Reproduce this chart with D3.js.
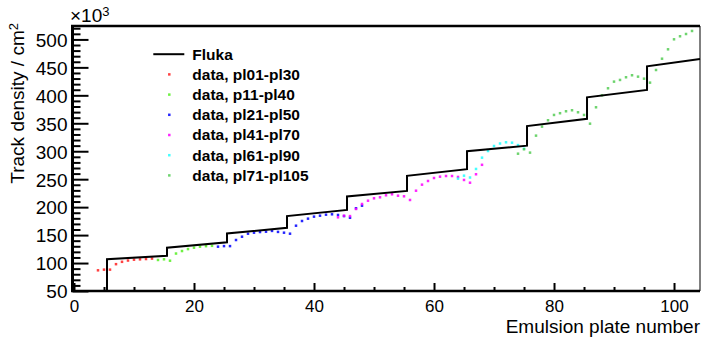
<!DOCTYPE html>
<html>
<head>
<meta charset="utf-8">
<script src="https://cdn.jsdelivr.net/npm/d3@7"></script>
<style>
  body { margin: 0; background: #fff; }
  text { font-family: "Liberation Sans", Arial, sans-serif; }
</style>
</head>
<body>
<div class="svg-content"></div>
<script>
// Fluka prediction (step line), x = plate number, y = track density in 10^3 / cm2
const flukaX = [5.5, 5.5, 15.5, 15.5, 25.5, 25.5, 35.5, 35.5, 45.5, 45.5, 55.5, 55.5, 65.5, 65.5, 75.5, 75.5, 85.5, 85.5, 95.5, 95.5, 104.33];
const flukaY = [50, 107, 113, 127.5, 137, 153, 163, 184, 195, 219, 229, 256, 268, 300, 310, 345, 358, 396.5, 409.6, 452, 465];

// measured data, one array per plate group
const seriesNames = ["data, pl01-pl30", "data, p11-pl40", "data, pl21-pl50", "data, pl41-pl70", "data, pl61-pl90", "data, pl71-pl105"];
const seriesColors = ["#ff2020", "#55ee22", "#0000ff", "#ff00ff", "#22ffff", "#55cc55"];
const seriesStart = [4, 14, 24, 44, 64, 74];

const red = [87, 88.2, 88.2, 98, 102.2, 104.5, 106, 106.6, 107.2, 108];
const green1 = [105.5, 106.7, 104.2, 117, 121.5, 125, 127.5, 129.3, 130.2, 130.8];
const blue = [129.3, 130.3, 130.3, 141.2, 147.1, 152.5, 154.3, 155.5, 156.1, 157.5, 155.7, 154.3, 152.5,
              166.8, 175.2, 179.4, 183, 184.7, 186.5, 187.2, 186, 184, 181, 198, 202.6];
const magenta = [181.8, 184.7, 184, 196.7, 205.6, 211.5, 215.8, 217.6, 221.2, 223, 220.5, 219.4, 212.8,
                 229.4, 240.2, 246.8, 252.1, 254.5, 255.7, 255.7, 254, 248.6, 243.7, 258.8, 275.7];
const cyan = [251, 256.3, 253, 268.3, 288.5, 300.4, 309.4, 313.8, 316, 315.3, 311, 304.5];
const green2 = [295.6, 303.5, 297.5, 327.9, 344, 355.4, 364.9, 368, 371.5, 373.3, 369.7, 364.9, 349.3,
                378.6, 400, 412.6, 424.5, 427.5, 432.3, 435.9, 433.4, 429.8, 422.7, 445.3, 465.5,
                482.3, 500.2, 505.6, 509.7, 515.1];
const seriesValues = [red, green1, blue, magenta, cyan, green2];

const xMajor = [0, 20, 40, 60, 80, 100];
const yMajor = [50, 100, 150, 200, 250, 300, 350, 400, 450, 500];

const svgWidth = 701;
const svgHeight = 341;

const padLeft = 74, padRight = 700, padTop = 26, padBottom = 291;

let svg = d3.select(".svg-content")
            .append("svg")
            .attr("width", svgWidth)
            .attr("height", svgHeight);

const xScale = d3.scaleLinear().domain([0, 104.33]).range([padLeft, padRight]);
const yScale = d3.scaleLinear().domain([50, 524]).range([padBottom, padTop]);

// minor ticks
const xMinor = d3.range(0, 105, 5).filter(v => xMajor.indexOf(v) < 0);
const yMinor = d3.range(50, 521, 10).filter(v => yMajor.indexOf(v) < 0);

svg.append("g")
   .attr("transform", "translate(0," + padBottom + ")")
   .call(d3.axisBottom(xScale).tickValues(xMinor).tickSize(-4).tickFormat(""))
   .call(g => g.select(".domain").remove())
   .call(g => g.selectAll("line").attr("stroke-width", 2));

svg.append("g")
   .attr("transform", "translate(0," + padBottom + ")")
   .call(d3.axisBottom(xScale).tickValues(xMajor).tickSize(-8).tickPadding(9))
   .call(g => g.select(".domain").remove())
   .call(g => g.selectAll("line").attr("stroke-width", 2))
   .call(g => g.selectAll("text").attr("font-size", 17).attr("fill", "#000")
                .style("font-family", "'Liberation Sans', Arial, sans-serif"));

svg.append("g")
   .attr("transform", "translate(" + (padLeft - 1.5) + ",0)")
   .call(d3.axisLeft(yScale).tickValues(yMinor).tickSize(-8).tickFormat(""))
   .call(g => g.select(".domain").remove())
   .call(g => g.selectAll("line").attr("stroke-width", 2));

svg.append("g")
   .attr("transform", "translate(" + (padLeft - 1.5) + ",0)")
   .call(d3.axisLeft(yScale).tickValues(yMajor).tickSize(-16).tickPadding(5))
   .call(g => g.select(".domain").remove())
   .call(g => g.selectAll("line").attr("stroke-width", 2))
   .call(g => g.selectAll("text").attr("font-size", 19).attr("dy", "0.36em").attr("fill", "#000")
                .style("font-family", "'Liberation Sans', Arial, sans-serif"));

// frame
svg.append("line").attr("x1", padLeft - 3).attr("x2", padRight).attr("y1", padTop).attr("y2", padTop)
   .attr("stroke", "#000").attr("stroke-width", 2.5);
svg.append("line").attr("x1", padRight).attr("x2", padRight).attr("y1", padTop).attr("y2", padBottom)
   .attr("stroke", "#000").attr("stroke-width", 1);
svg.append("line").attr("x1", padLeft - 1.5).attr("x2", padLeft - 1.5).attr("y1", padTop - 1).attr("y2", padBottom + 1)
   .attr("stroke", "#000").attr("stroke-width", 3);
svg.append("line").attr("x1", padLeft - 3).attr("x2", padRight).attr("y1", padBottom).attr("y2", padBottom)
   .attr("stroke", "#000").attr("stroke-width", 2.5);

// data points
seriesValues.forEach((vals, s) => {
  svg.append("g")
     .selectAll("rect")
     .data(vals)
     .enter()
     .append("rect")
     .attr("x", (d, i) => xScale(seriesStart[s] + i) - 1.25)
     .attr("y", d => yScale(d) - 1.25)
     .attr("width", 2.5)
     .attr("height", 2.5)
     .attr("fill", seriesColors[s])
     .attr("fill-opacity", 0.85);
});

// Fluka line
const line = d3.line()
               .x(d => xScale(d[0]))
               .y(d => yScale(d[1]));

svg.append("path")
   .datum(flukaX.map((x, i) => [x, flukaY[i]]))
   .attr("d", line)
   .attr("fill", "none")
   .attr("stroke", "#000")
   .attr("stroke-width", 2);

// titles
svg.append("text")
   .attr("x", padRight)
   .attr("y", 333)
   .attr("text-anchor", "end")
   .attr("font-size", 19)
   .text("Emulsion plate number");

const yTitle = svg.append("text")
   .attr("transform", "translate(24,23) rotate(-90)")
   .attr("text-anchor", "end")
   .attr("font-size", 19);
yTitle.append("tspan").text("Track density / cm");
yTitle.append("tspan").attr("dy", "-0.45em").attr("font-size", 13).text("2");

const expo = svg.append("text")
   .attr("x", 70)
   .attr("y", 22)
   .attr("font-size", 19);
expo.append("tspan").text("\u00d710");
expo.append("tspan").attr("dy", "-0.45em").attr("font-size", 13).text("3");

// legend
const legendX = 192.3, legendY = 59.5, legendStep = 20.2;

svg.append("line")
   .attr("x1", 153.3).attr("x2", 184.3)
   .attr("y1", legendY - 5.3).attr("y2", legendY - 5.3)
   .attr("stroke", "#000").attr("stroke-width", 2);

svg.append("text")
   .attr("x", legendX).attr("y", legendY)
   .attr("font-size", 15.5).attr("font-weight", "bold")
   .text("Fluka");

seriesNames.forEach((name, s) => {
  const yy = legendY + (s + 1) * legendStep;
  svg.append("rect")
     .attr("x", 169.3 - 1.25).attr("y", yy - 5.3 - 1.25)
     .attr("width", 2.5).attr("height", 2.5)
     .attr("fill", seriesColors[s]).attr("fill-opacity", 0.85);
  svg.append("text")
     .attr("x", legendX).attr("y", yy)
     .attr("font-size", 15.5).attr("font-weight", "bold")
     .text(name);
});
</script>
</body>
</html>
